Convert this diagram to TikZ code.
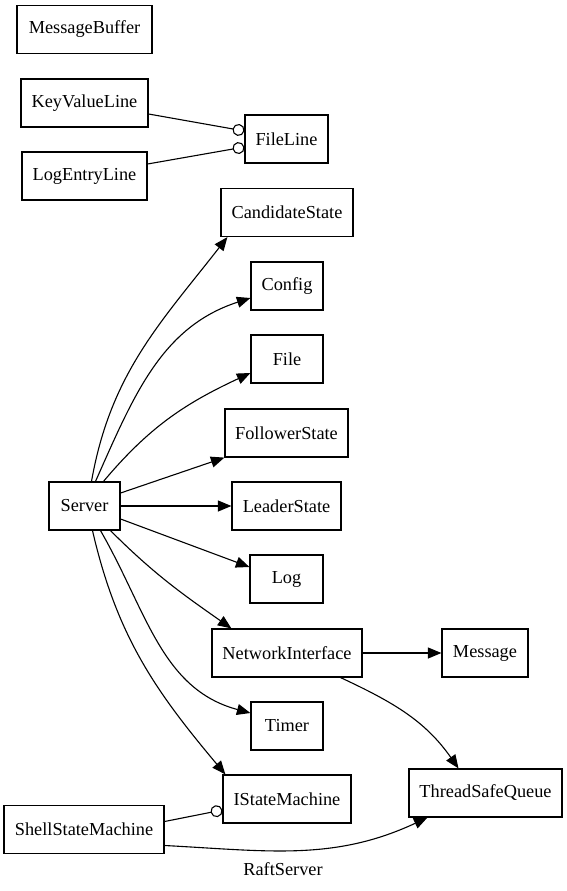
\documentclass[tikz,border=0pt]{standalone}
\usepackage{fontspec}
\setmainfont{Liberation Serif}
\usetikzlibrary{arrows.meta, positioning}
\tikzset{
  cls/.style  = {draw, line width=1.2pt, inner xsep=4pt, minimum width=#1,
                 minimum height=48pt, font=\rmfamily\fontsize{18.3}{21}\selectfont},
  cls/.default = 72pt,
  dep/.style  = {-{Triangle[length=13.5pt, width=11pt]}, line width=1.1pt},
  impl/.style = {-{Circle[open, length=12pt, width=12pt]}, line width=1.1pt}
}
\begin{document}
\begin{tikzpicture}[x=1pt, y=-1pt]
\useasboundingbox (0,0) rectangle (567,891);
\node[cls=135pt] at ( 84.5, 29.5) (msgbuf)   {MessageBuffer};
\node[cls=127pt] at ( 84.5,103)   (kvline)   {KeyValueLine};
\node[cls=125pt] at ( 84.5,176)   (logline)  {LogEntryLine};
\node[cls=83pt]  at (286.5,139)   (fileline) {FileLine};
\node[cls=132pt] at (287,212.5)   (cand)     {CandidateState};
\node[cls]       at (287,286)     (config)   {Config};
\node[cls]       at (287,359)     (file)     {File};
\node[cls=123pt] at (286.5,433)   (follower) {FollowerState};
\node[cls=109pt] at (286.5,506)   (leader)   {LeaderState};
\node[cls=73pt]  at (286.5,579)   (log)      {Log};
\node[cls=150pt] at (287,653)     (netif)    {NetworkInterface};
\node[cls=86pt]  at (485,653)     (msg)      {Message};
\node[cls]       at (287,726)     (timer)    {Timer};
\node[cls=128pt] at (287,799)     (ism)      {IStateMachine};
\node[cls=153pt] at (485.5,793)   (tsq)      {ThreadSafeQueue};
\node[cls=71pt]  at ( 84.5,506)   (server)   {Server};
\node[cls=160pt] at ( 84,829.5)   (shell)    {ShellStateMachine};
\node[font=\rmfamily\fontsize{18.3}{21}\selectfont] at (283,869) (title) {RaftServer};

% implementations
\draw[impl] ([yshift=-11pt]kvline.east) -- ([yshift=8pt]fileline.west);
\draw[impl] ([yshift=12pt]logline.east) -- ([yshift=-8pt]fileline.west);
\draw[impl] ([yshift=8pt]shell.east)    -- ([yshift=-11pt]ism.west);

% dependencies of Server
\draw[dep] ([xshift=7pt]server.north)  to[out=80, in=232] ([xshift=7pt]cand.south west);
\draw[dep] ([xshift=11pt]server.north) to[out=66, in=198] ([yshift=-12pt]config.west);
\draw[dep] ([xshift=19pt]server.north) to[out=50, in=205] ([yshift=-14pt]file.west);
\draw[dep] ([yshift=13pt]server.east)  -- (follower.south west);
\draw[dep] (server.east)               -- (leader.west);
\draw[dep] ([yshift=-13pt]server.east) -- ([yshift=12pt]log.west);
\draw[dep] ([xshift=26pt]server.south) to[out=-45, in=145] ([xshift=20pt]netif.north west);
\draw[dep] ([xshift=16pt]server.south) to[out=-60, in=165] ([yshift=13pt]timer.west);
\draw[dep] ([xshift=8pt]server.south)  to[out=-77, in=130] ([xshift=3pt]ism.north west);

% other dependencies
\draw[dep] (netif.east) -- (msg.west);
\draw[dep] ([xshift=-22pt]netif.south east) to[out=-25, in=125] ([xshift=-27pt]tsq.north);
\draw[dep] ([yshift=-16pt]shell.east) to[out=-3, in=205] ([xshift=19pt]tsq.south west);
\end{tikzpicture}
\end{document}
